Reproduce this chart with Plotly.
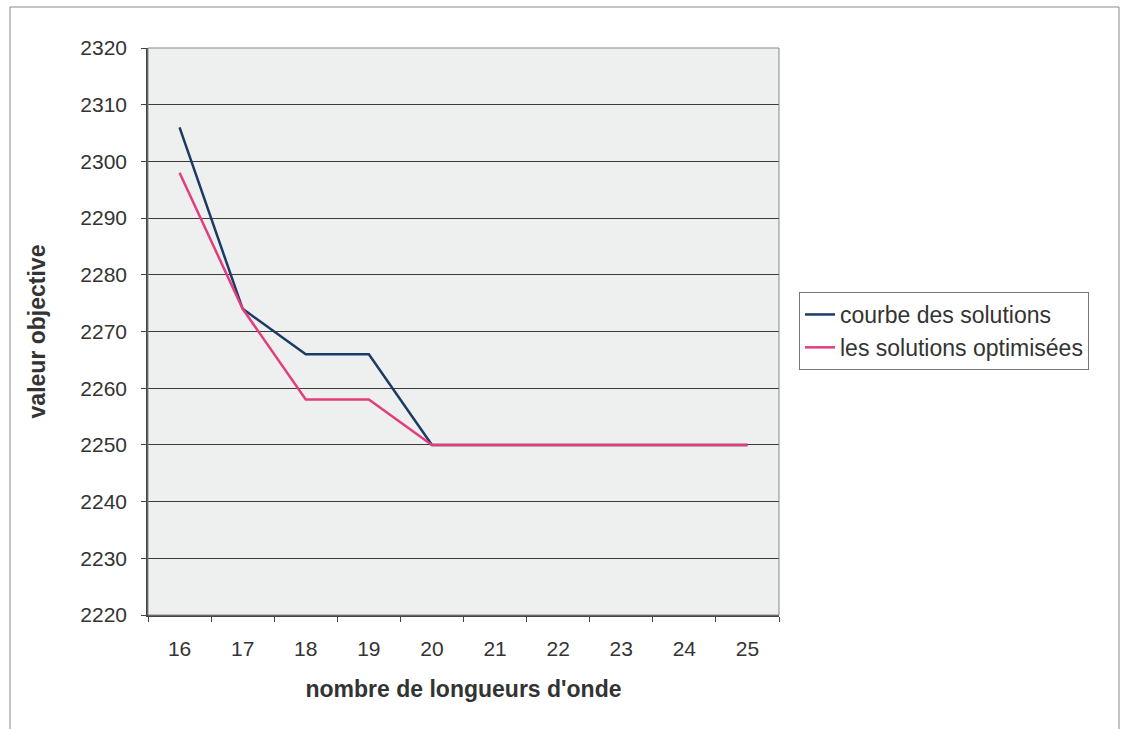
import plotly.graph_objects as go

# Number of wavelengths (x categories)
longueurs = [16, 17, 18, 19, 20, 21, 22, 23, 24, 25]
# Objective value of the solution curve
courbe_solutions = [2306, 2274, 2266, 2266, 2250, 2250, 2250, 2250, 2250, 2250]
# Objective value of the optimised solutions
solutions_optimisees = [2298, 2274, 2258, 2258, 2250, 2250, 2250, 2250, 2250, 2250]
y_ticks = [2220, 2230, 2240, 2250, 2260, 2270, 2280, 2290, 2300, 2310, 2320]

W, H = 1124, 729
L, R, T, B = 148, 345, 48, 114
pw, ph = W - L - R, H - T - B

FONT = "Liberation Sans, Arial, sans-serif"
TXT = "#333333"
TICK_SIZE = 21
TITLE_SIZE = 23

fig = go.Figure()
fig.add_trace(go.Scatter(
    x=longueurs, y=courbe_solutions, mode="lines",
    name="courbe des solutions",
    line=dict(color="#1b3a66", width=2.5),
))
fig.add_trace(go.Scatter(
    x=longueurs, y=solutions_optimisees, mode="lines",
    name="les solutions optimisées",
    line=dict(color="#e23d7c", width=2.5),
))

def px_x(p):
    return (p - L) / pw

def px_y(p):
    return (H - B - p) / ph

# Outer chart frame
fig.add_shape(type="rect", xref="paper", yref="paper",
              x0=px_x(10), x1=px_x(1119), y0=px_y(750), y1=px_y(7),
              line=dict(color="#8a8a8a", width=1), layer="below")
# Plot area frame (right / top edges)
fig.add_shape(type="rect", xref="paper", yref="paper",
              x0=0, x1=1, y0=0, y1=1,
              line=dict(color="#888888", width=1), layer="above")

fig.update_layout(
    width=W, height=H,
    margin=dict(l=L, r=R, t=T, b=B, autoexpand=False),
    paper_bgcolor="white",
    plot_bgcolor="#eef0ef",
    font=dict(family=FONT, size=TICK_SIZE, color=TXT),
    showlegend=True,
    legend=dict(
        x=px_x(799), y=px_y(292), xanchor="left", yanchor="top",
        bgcolor="white", bordercolor="#777777", borderwidth=1,
        font=dict(family=FONT, size=TITLE_SIZE, color=TXT),
        tracegroupgap=0,
    ),
)

fig.update_xaxes(
    range=[15.5, 25.5],
    tickmode="array", tickvals=longueurs, ticktext=[str(v) for v in longueurs],
    ticks="", showgrid=False, zeroline=False,
    showline=True, linecolor="#444444", linewidth=1.5,
    tickfont=dict(family=FONT, size=TICK_SIZE, color=TXT),
    ticklabelstandoff=14,
    minor=dict(tickmode="linear", tick0=15.5, dtick=1, ticks="outside",
               ticklen=5, tickcolor="#444444", tickwidth=1, showgrid=False),
    title=dict(text="<b>nombre de longueurs d'onde</b>", standoff=22,
               font=dict(family=FONT, size=TITLE_SIZE, color=TXT)),
)

fig.update_yaxes(
    range=[2220, 2320],
    tickmode="array", tickvals=y_ticks,
    ticks="outside", ticklen=5, tickcolor="#444444", tickwidth=1,
    ticklabelstandoff=10,
    showgrid=True, gridcolor="#3a3a3a", gridwidth=1.3,
    zeroline=False,
    showline=True, linecolor="#444444", linewidth=1.5,
    tickfont=dict(family=FONT, size=TICK_SIZE, color=TXT),
    title=dict(text="<b>valeur objective</b>", standoff=28,
               font=dict(family=FONT, size=TITLE_SIZE, color=TXT)),
)

fig.write_html("out.html")
